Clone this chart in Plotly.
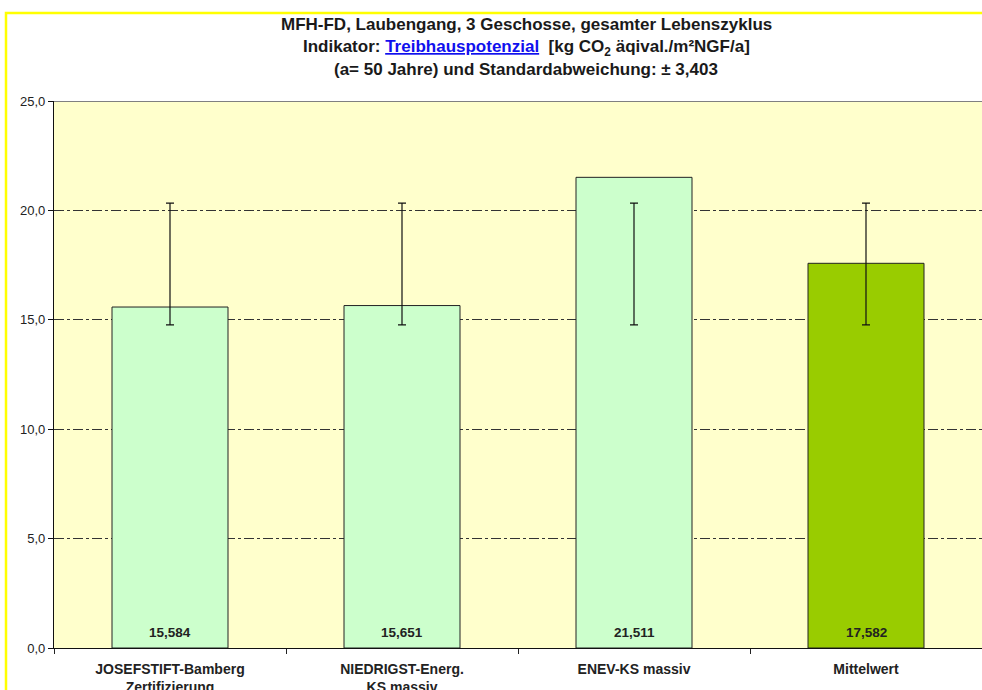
import plotly.graph_objects as go

categories = ["JOSEFSTIFT-Bamberg<br>Zertifizierung", "NIEDRIGST-Energ.<br>KS massiv", "ENEV-KS massiv", "Mittelwert"]
values = [15.584, 15.651, 21.511, 17.582]
value_labels = ["15,584", "15,651", "21,511", "17,582"]
err_low = [14.77, 14.77, 14.77, 14.77]
err_high = [20.33, 20.33, 20.33, 20.33]
bar_colors = ["#CCFFCC", "#CCFFCC", "#CCFFCC", "#99CC00"]
y_ticks = [0, 5, 10, 15, 20, 25]

FONT = "Liberation Sans, Arial, sans-serif"

fig = go.Figure()
fig.add_trace(go.Bar(
    x=categories, y=values,
    marker=dict(color=bar_colors, line=dict(color="#222222", width=1)),
    hoverinfo="skip", showlegend=False,
))
fig.add_trace(go.Scatter(
    x=categories, y=err_low, mode="markers",
    marker=dict(size=1, opacity=0),
    error_y=dict(type="data", symmetric=False,
                 array=[h - l for h, l in zip(err_high, err_low)],
                 arrayminus=[0] * len(err_low),
                 color="#111111", thickness=1.2, width=4),
    hoverinfo="skip", showlegend=False,
))

for c, lab in zip(categories, value_labels):
    fig.add_annotation(x=c, y=0, yanchor="bottom", yshift=6, text="<b>" + lab + "</b>",
                       showarrow=False, font=dict(family=FONT, size=13.5, color="#222222"))

title_lines = [
    "<b>MFH-FD, Laubengang, 3 Geschosse, gesamter Lebenszyklus</b>",
    "<b>Indikator: <span style='color:#1010EE'><u>Treibhauspotenzial</u></span>  [kg CO<sub>2</sub> äqival./m²NGF/a]</b>",
    "<b>(a= 50 Jahre) und Standardabweichung: ± 3,403</b>",
]
title_y_px = [25, 48, 70]
for t, ypx in zip(title_lines, title_y_px):
    fig.add_annotation(xref="paper", yref="paper", x=(526 - 54) / 928, y=(647.7 - ypx) / 546.7,
                       xanchor="center", yanchor="middle", text=t, showarrow=False,
                       font=dict(family=FONT, size=17, color="#1a1a1a"))

# yellow outer frame
fig.add_shape(type="rect", xref="paper", yref="paper",
              x0=(6 - 54) / 928, x1=1.2, y0=-0.5, y1=(647.7 - 13) / 546.7,
              line=dict(color="#FFFF00", width=2.5), fillcolor="rgba(0,0,0,0)", layer="above")
# top border of plot area
fig.add_shape(type="line", xref="paper", yref="y", x0=0, x1=1, y0=25, y1=25,
              line=dict(color="#808080", width=2), layer="above")

fig.update_layout(
    width=982, height=690,
    margin=dict(l=54, r=0, t=101, b=42),
    paper_bgcolor="white", plot_bgcolor="#FFFFCC",
    bargap=0.5, separators=",.",
    font=dict(family=FONT, color="#222222"),
    xaxis=dict(type="category", tickson="boundaries", ticks="outside", ticklen=5,
               tickcolor="#222222", showline=True, linecolor="#111111", linewidth=1.2,
               showgrid=False, tickfont=dict(family=FONT, size=14, color="#222222"),
               ticklabelstandoff=8, automargin=False,
               tickprefix="<b>", ticksuffix="</b>", range=[-0.5, 3.5]),
    yaxis=dict(range=[0, 25], tickvals=y_ticks, tickformat=".1f", ticks="outside", ticklen=5,
               tickcolor="#111111", showline=True, linecolor="#111111", linewidth=1.2,
               showgrid=True, gridcolor="#333333", gridwidth=1, griddash="10px,3px,3px,3px",
               automargin=False,
               zeroline=False, tickfont=dict(family=FONT, size=13, color="#222222")),
)

fig.write_html("out.html", config={"displayModeBar": False},
               post_script="document.body.style.margin='0';")
